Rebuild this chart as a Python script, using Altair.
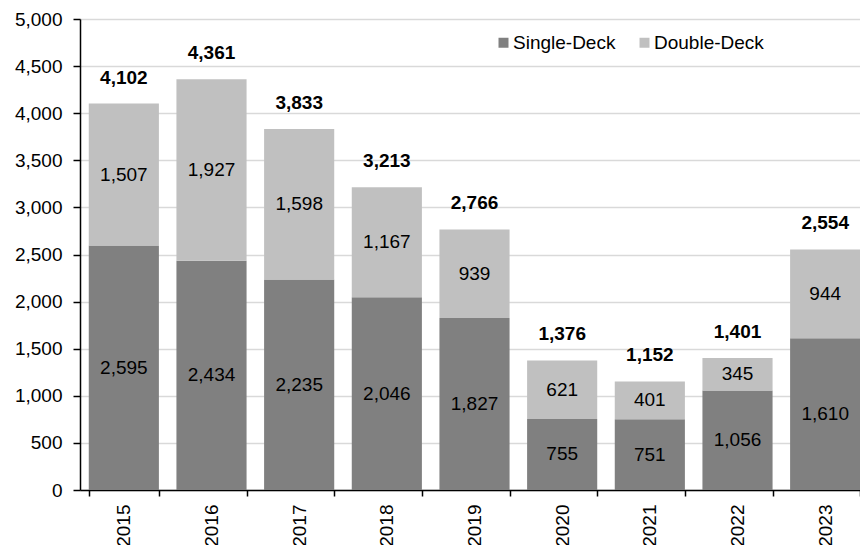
import altair as alt
import pandas as pd

# Annual deliveries by bus type
years = ["2015", "2016", "2017", "2018", "2019", "2020", "2021", "2022", "2023"]
single_deck = [2595, 2434, 2235, 2046, 1827, 755, 751, 1056, 1610]
double_deck = [1507, 1927, 1598, 1167, 939, 621, 401, 345, 944]

types = ["Single-Deck", "Double-Deck"]
colors = ["#808080", "#c0c0c0"]

rows = []
for i, y in enumerate(years):
    rows.append({"year": y, "type": types[0], "order": 0, "value": single_deck[i]})
    rows.append({"year": y, "type": types[1], "order": 1, "value": double_deck[i]})
df = pd.DataFrame(rows)

FONT = "Liberation Sans"
FS = 19

x_enc = alt.X(
    "year:N",
    sort=years,
    title=None,
    scale=alt.Scale(range=[0, 789], paddingInner=0.2, paddingOuter=0.1),
    axis=alt.Axis(
        labelAngle=-90,
        labelFontSize=FS,
        labelColor="black",
        labelFont=FONT,
        labelPadding=8,
        tickBand="extent",
        tickSize=6,
        tickColor="black",
        domainColor="black",
        domainWidth=1.5,
        tickWidth=1.5,
        grid=False,
    ),
)

base = alt.Chart(df)

bars = base.mark_bar().encode(
    x=x_enc,
    y=alt.Y(
        "sum(value):Q",
        title=None,
        stack="zero",
        scale=alt.Scale(domain=[0, 5000], nice=False),
        axis=alt.Axis(
            values=list(range(0, 5001, 500)),
            format=",d",
            labelFontSize=FS,
            labelColor="black",
            labelFont=FONT,
            labelPadding=11,
            tickSize=7,
            tickColor="black",
            tickWidth=1.5,
            domainColor="black",
            domainWidth=1.5,
            gridColor="#d9d9d9",
            gridWidth=1.5,
        ),
    ),
    color=alt.Color(
        "type:N",
        sort=types,
        scale=alt.Scale(domain=types, range=colors),
        legend=alt.Legend(
            title=None,
            orient="none",
            legendX=414,
            legendY=14,
            direction="horizontal",
            symbolType="square",
            symbolSize=100,
            symbolStrokeWidth=0,
            labelFontSize=FS,
            labelFont=FONT,
            labelColor="black",
            labelOffset=0,
            columnPadding=19,
        ),
    ),
    order=alt.Order("order:Q"),
)

seg_labels = (
    base.transform_stack(
        stack="value",
        as_=["y0", "y1"],
        groupby=["year"],
        sort=[alt.SortField("order", order="ascending")],
    )
    .transform_calculate(mid="(datum.y0 + datum.y1) / 2")
    .mark_text(font=FONT, fontSize=FS, color="black", baseline="middle")
    .encode(
        x=alt.X("year:N", sort=years),
        y=alt.Y("mid:Q"),
        text=alt.Text("value:Q", format=",d"),
    )
)

totals = (
    base.transform_aggregate(total="sum(value)", groupby=["year"])
    .mark_text(font=FONT, fontSize=FS, fontWeight="bold", color="black",
               baseline="alphabetic", dy=-20)
    .encode(
        x=alt.X("year:N", sort=years),
        y=alt.Y("total:Q"),
        text=alt.Text("total:Q", format=",d"),
    )
)

chart = (
    alt.layer(bars, seg_labels, totals)
    .properties(
        width=780,
        height=471,
        autosize=alt.AutoSizeParams(type="none"),
        padding={"left": 80, "top": 19, "right": 0, "bottom": 55},
    )
    .configure_view(stroke=None)
    .configure(background="white")
)

chart.save("out.html", embed_options={"renderer": "svg", "actions": False})
